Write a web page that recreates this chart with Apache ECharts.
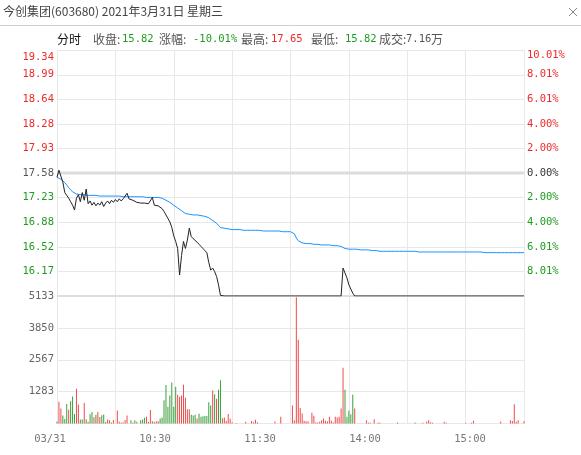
<!DOCTYPE html>
<html><head><meta charset="utf-8">
<script src="https://cdn.jsdelivr.net/npm/echarts@6/dist/echarts.min.js"></script>
<style>html,body{margin:0;padding:0;background:#fff}#c{width:581px;height:455px}</style>
</head><body><div id="c"></div>
<script>
const titleText = '今创集团(603680) 2021年3月31日 星期三';
const prevClose = 17.58;
const limitDown = 15.82;
const priceTicks = [16.17, 16.52, 16.88, 17.23, 17.58, 17.93, 18.28, 18.64, 18.99, 19.34];
const pctTicks = [-8.01, -6.01, -4.00, -2.00, 0, 2.00, 4.00, 6.01, 8.01, 10.01];
const volTicks = [1283, 2567, 3850, 5133];
const xTickLabels = ['03/31', '10:30', '11:30', '14:00', '15:00'];

const price = [
17.52,17.62,17.60,17.45,17.30,17.26,17.22,17.17,17.12,17.05,
17.22,17.27,17.17,17.30,17.19,17.35,17.14,17.18,17.12,17.16,
17.11,17.15,17.12,17.17,17.10,17.15,17.18,17.14,17.19,17.16,
17.20,17.17,17.21,17.18,17.21,17.20,17.29,17.21,17.22,17.19,
17.19,17.16,17.17,17.15,17.16,17.15,17.15,17.14,17.16,17.23,
17.12,17.13,17.11,17.10,17.07,17.03,16.98,16.93,16.88,16.80,
16.68,16.60,16.50,16.12,16.40,16.60,16.50,16.62,16.79,16.67,
16.64,16.62,16.59,16.56,16.53,16.50,16.47,16.44,16.30,16.19,
16.22,16.17,16.10,15.98,15.83,15.82,15.82,15.82,15.82,15.82,
15.82,15.82,15.82,15.82,15.82,15.82,15.82,15.82,15.82,15.82,
15.82,15.82,15.82,15.82,15.82,15.82,15.82,15.82,15.82,15.82,
15.82,15.82,15.82,15.82,15.82,15.82,15.82,15.82,15.82,15.82,
15.82,15.82,15.82,15.82,15.82,15.82,15.82,15.82,15.82,15.82,
15.82,15.82,15.82,15.82,15.82,15.82,15.82,15.82,15.82,15.82,
15.82,15.82,15.82,15.82,15.82,15.82,15.82,16.22,16.15,16.08,
15.98,15.92,15.86,15.82,15.82,15.82,15.82,15.82,15.82,15.82,
15.82,15.82,15.82,15.82,15.82,15.82,15.82,15.82,15.82,15.82,
15.82,15.82,15.82,15.82,15.82,15.82,15.82,15.82,15.82,15.82,
15.82,15.82,15.82,15.82,15.82,15.82,15.82,15.82,15.82,15.82,
15.82,15.82,15.82,15.82,15.82,15.82,15.82,15.82,15.82,15.82,
15.82,15.82,15.82,15.82,15.82,15.82,15.82,15.82,15.82,15.82,
15.82,15.82,15.82,15.82,15.82,15.82,15.82,15.82,15.82,15.82,
15.82,15.82,15.82,15.82,15.82,15.82,15.82,15.82,15.82,15.82,
15.82,15.82,15.82,15.82,15.82,15.82,15.82,15.82,15.82,15.82,
15.82
];

const avgPrice = [
17.52,17.51,17.49,17.47,17.44,17.41,17.37,17.34,17.31,17.29,
17.28,17.28,17.27,17.27,17.27,17.27,17.26,17.26,17.26,17.26,
17.26,17.25,17.25,17.25,17.25,17.25,17.25,17.25,17.25,17.25,
17.25,17.25,17.25,17.24,17.24,17.24,17.24,17.24,17.24,17.24,
17.24,17.24,17.24,17.24,17.24,17.23,17.23,17.23,17.23,17.23,
17.23,17.23,17.23,17.23,17.22,17.21,17.19,17.18,17.16,17.14,
17.12,17.10,17.08,17.06,17.04,17.02,17.00,16.99,16.99,16.98,
16.98,16.98,16.98,16.97,16.97,16.96,16.96,16.95,16.94,16.92,
16.90,16.88,16.86,16.83,16.80,16.79,16.79,16.78,16.78,16.77,
16.77,16.77,16.77,16.77,16.77,16.76,16.76,16.76,16.76,16.76,
16.76,16.76,16.76,16.76,16.76,16.75,16.75,16.75,16.75,16.75,
16.75,16.75,16.75,16.75,16.75,16.75,16.74,16.74,16.74,16.74,
16.74,16.73,16.71,16.65,16.61,16.59,16.58,16.58,16.57,16.57,
16.57,16.56,16.56,16.56,16.56,16.56,16.55,16.55,16.55,16.55,
16.55,16.55,16.54,16.54,16.54,16.54,16.53,16.51,16.50,16.50,
16.49,16.49,16.49,16.49,16.49,16.49,16.48,16.48,16.48,16.48,
16.48,16.47,16.47,16.47,16.47,16.47,16.46,16.46,16.46,16.46,
16.46,16.46,16.46,16.46,16.46,16.46,16.46,16.46,16.46,16.46,
16.46,16.46,16.46,16.46,16.46,16.46,16.45,16.45,16.45,16.45,
16.45,16.45,16.45,16.45,16.45,16.45,16.45,16.45,16.45,16.45,
16.45,16.45,16.45,16.45,16.45,16.45,16.45,16.45,16.45,16.45,
16.45,16.45,16.45,16.45,16.45,16.45,16.45,16.45,16.45,16.44,
16.44,16.44,16.44,16.44,16.44,16.44,16.44,16.44,16.44,16.44,
16.44,16.44,16.44,16.44,16.44,16.44,16.44,16.44,16.44,16.44,
16.44
];

const volume = [
80,880,600,320,180,790,550,900,1090,380,
1400,760,160,160,830,170,70,370,460,250,
350,460,260,330,360,60,160,130,40,140,
0,520,70,40,40,140,320,0,130,40,
130,70,0,130,160,230,270,70,540,90,
60,90,90,200,240,940,1545,670,1130,1650,
670,1480,1160,1075,1130,1565,1040,570,577,355,
320,355,200,390,275,295,300,300,860,720,
1330,1180,1000,1360,1740,210,240,100,380,190,
55,0,25,0,0,0,0,75,0,0,
100,55,155,50,0,0,0,0,0,0,
0,0,80,0,0,275,0,0,0,0,
0,720,120,5080,3370,620,400,110,90,90,
0,430,310,40,40,70,135,200,110,80,
270,110,40,270,240,270,600,2240,1355,270,
510,375,1155,600,0,0,0,0,0,135,
40,30,0,175,0,40,30,0,0,0,
0,0,0,0,0,40,0,0,0,0,
0,0,0,0,40,0,0,0,30,0,
70,135,50,30,0,0,0,0,0,70,
30,0,0,0,0,0,0,0,0,0,
30,0,0,30,110,0,0,0,0,0,
0,0,0,0,0,0,0,0,80,0,
0,0,0,135,100,780,70,135,0,0,
95
];

// r = up (red), g = down (green), one letter per minute
const volDir = [
'grrgggrggg','rrggrgrggr','grrgggrrgr','rrrrrrrrgr','grrgggrrrg',
'rrrggggggg','ggrrrrrrrg','ggrggggggg','rgrggrrrrr','rrrrrrrrrr',
'rrrrrrrrrr','rrrrrrrrrr','rrrrrrrrrr','rrrrrrrrrr','rrrrrrrrgg',
'gggrrrrrrr','rrrrrrrrrr','rrrrrrrrrr','rrrrrrrrrr','rrrrrrrrrr',
'rrrrrrrrrr','rrrrrrrrrr','rrrrrrrrrr','rrrrrrrrrr','r'
].join('');

const times = [];
function hm(m){ const h = Math.floor(m/60), mm = m%60; return (h<10?'0':'')+h+':'+(mm<10?'0':'')+mm; }
for (let m = 570; m <= 690; m++) times.push(hm(m));
for (let m = 781; m <= 900; m++) times.push(hm(m));

const RED = '#ee2a2a', GREEN = '#1f9b1f', GREY = '#555';
const MONO = 'DejaVu Sans Mono';
const CJK = 'Noto Sans CJK SC';
const GRID = '#e8e8e8';

const chart = echarts.init(document.getElementById('c'), null, {renderer:'canvas'});

function hdr(x, text, color, font){
  return {type:'text', x:x, y:39, style:{text:text, fill:color, font:font, verticalAlign:'middle', align:'left'}, silent:true};
}
const cjkFont = '12px "' + CJK + '"';
const monoFont = '10.5px "' + MONO + '"';

const firstT = times[0], lastT = times[times.length - 1];

chart.setOption({
  animation:false,
  backgroundColor:'#fff',
  graphic:[
    {type:'text', x:3, y:11, style:{text:titleText, fill:'#444', font:cjkFont, verticalAlign:'middle'}, silent:true},
    {type:'line', shape:{x1:0, y1:25.5, x2:581, y2:25.5}, style:{stroke:'#cfcfcf', lineWidth:1}, silent:true},
    {type:'line', shape:{x1:569, y1:8, x2:577, y2:16}, style:{stroke:'#888', lineWidth:1}, silent:true},
    {type:'line', shape:{x1:577, y1:8, x2:569, y2:16}, style:{stroke:'#888', lineWidth:1}, silent:true},
    hdr(57, '分时', '#111', cjkFont),
    hdr(93, '收盘:', GREY, cjkFont),
    hdr(122, '15.82', GREEN, monoFont),
    hdr(159, '涨幅:', GREY, cjkFont),
    hdr(193, '-10.01%', GREEN, monoFont),
    hdr(241, '最高:', GREY, cjkFont),
    hdr(271, '17.65', RED, monoFont),
    hdr(311, '最低:', GREY, cjkFont),
    hdr(345, '15.82', GREEN, monoFont),
    hdr(379, '成交:', GREY, cjkFont),
    hdr(406, '7.16', GREY, monoFont),
    hdr(431, '万', GREY, cjkFont)
  ],
  grid:[
    {left:57, top:50, width:467, height:246},
    {left:57, top:296, width:467, height:127.5},
    {left:50, top:425, width:420, height:5}
  ],
  xAxis:[
    {type:'category', gridIndex:0, data:times, boundaryGap:false,
     axisLine:{show:false}, axisTick:{show:false}, axisLabel:{show:false},
     splitLine:{show:true, interval:function(i){return i%30===0;}, lineStyle:{color:GRID, width:1}}},
    {type:'category', gridIndex:1, data:times, boundaryGap:false,
     axisLine:{show:false}, axisTick:{show:false}, axisLabel:{show:false},
     splitLine:{show:true, interval:function(i){return i%30===0;}, lineStyle:{color:GRID, width:1}}},
    {type:'category', gridIndex:2, data:xTickLabels, boundaryGap:false,
     axisLine:{show:false}, axisTick:{show:false}, splitLine:{show:false},
     axisLabel:{interval:0, showMinLabel:true, showMaxLabel:true, color:'#777', fontFamily:MONO, fontSize:10.5, margin:4}}
  ],
  yAxis:[
    {type:'value', gridIndex:0, min:15.82, max:19.34, interval:0.3516, position:'left',
     axisLine:{show:false}, axisTick:{show:false},
     splitLine:{show:true, lineStyle:{color:GRID, width:1}},
     axisLabel:{customValues:priceTicks, margin:3, fontFamily:MONO, fontSize:10.5,
       color:function(v){ v = +v; return v > prevClose + 1e-6 ? RED : (v < prevClose - 1e-6 ? GREEN : GREY); },
       formatter:function(v){ const s = (+v).toFixed(2); return v >= 19.34 ? '{t|' + s + '}' : s; },
       rich:{t:{color:RED, fontFamily:MONO, fontSize:10.5, padding:[14,0,0,0]}}}},
    {type:'value', gridIndex:0, min:-10.01, max:10.01, position:'right',
     axisLine:{show:false}, axisTick:{show:false}, splitLine:{show:false},
     axisLabel:{customValues:pctTicks, margin:3, fontFamily:MONO, fontSize:10.5,
       color:function(v){ v = +v; return v > 1e-6 ? RED : (v < -1e-6 ? GREEN : '#333'); },
       formatter:function(v){ const s = Math.abs(+v).toFixed(2) + '%'; return v >= 10.01 ? '{t|' + s + '}' : s; },
       rich:{t:{color:RED, fontFamily:MONO, fontSize:10.5, padding:[10,0,0,0]}}}},
    {type:'value', gridIndex:1, min:0, max:5133, interval:1283.25, position:'left',
     axisLine:{show:false}, axisTick:{show:false},
     splitLine:{show:true, lineStyle:{color:GRID, width:1}},
     axisLabel:{customValues:volTicks, margin:3, fontFamily:MONO, fontSize:10.5, color:'#666',
       formatter:function(v){ return String(Math.round(v)); }}},
    {type:'value', gridIndex:2, show:false}
  ],
  series:[
    {type:'line', name:'昨收', xAxisIndex:0, yAxisIndex:0, data:[[firstT, prevClose],[lastT, prevClose]],
     symbol:'none', silent:true, z:1, lineStyle:{color:'#dcdcdc', width:3}},
    {type:'line', name:'跌停', xAxisIndex:0, yAxisIndex:0, data:[[firstT, limitDown],[lastT, limitDown]],
     symbol:'none', silent:true, z:1, clip:false, lineStyle:{color:'#dedede', width:2}},
    {type:'line', name:'均价', xAxisIndex:0, yAxisIndex:0, data:avgPrice, symbol:'none', z:3,
     lineStyle:{color:'#1e90ff', width:1}, itemStyle:{color:'#1e90ff'}},
    {type:'line', name:'价格', xAxisIndex:0, yAxisIndex:0, data:price, symbol:'none', z:4,
     lineStyle:{color:'#222', width:1}, itemStyle:{color:'#222'}},
    {type:'bar', name:'成交量', xAxisIndex:1, yAxisIndex:2, barWidth:1, z:3,
     data:volume.map(function(v, i){ return {value:v, itemStyle:{color: volDir.charAt(i) === 'g' ? '#3c9e3c' : '#ef4b4b'}}; })}
  ]
});
</script>
</body></html>
